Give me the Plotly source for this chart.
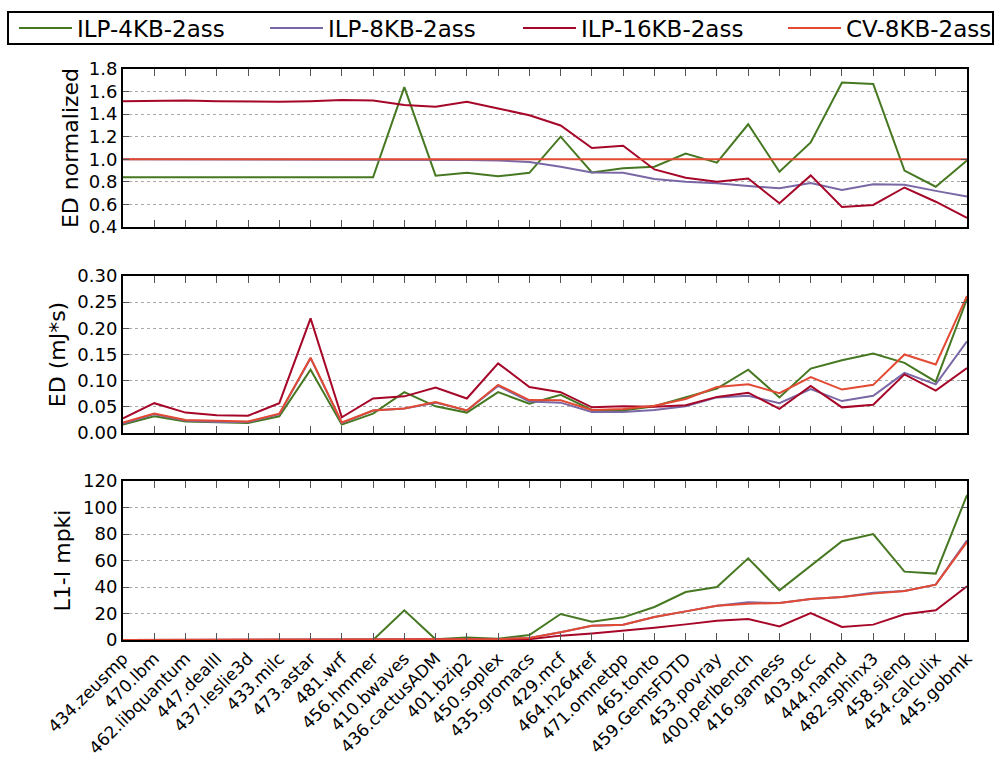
import plotly.graph_objects as go

benchmarks = ["434.zeusmp", "470.lbm", "462.libquantum", "447.dealII", "437.leslie3d",
              "433.milc", "473.astar", "481.wrf", "456.hmmer", "410.bwaves",
              "436.cactusADM", "401.bzip2", "450.soplex", "435.gromacs", "429.mcf",
              "464.h264ref", "471.omnetpp", "465.tonto", "459.GemsFDTD", "453.povray",
              "400.perlbench", "416.gamess", "403.gcc", "444.namd", "482.sphinx3",
              "458.sjeng", "454.calculix", "445.gobmk"]

series_names = ["ILP-4KB-2ass", "ILP-8KB-2ass", "ILP-16KB-2ass", "CV-8KB-2ass"]
series_colors = ["#467821", "#7A68A6", "#A60628", "#E24A33"]

# Panel 1: ED normalized
ednorm_ilp4 = [0.84, 0.84, 0.84, 0.84, 0.84, 0.84, 0.84, 0.84, 0.84, 1.64,
               0.855, 0.88, 0.85, 0.88, 1.20, 0.884, 0.92, 0.934, 1.05, 0.97,
               1.31, 0.89, 1.15, 1.68, 1.667, 0.90, 0.757, 0.99]
ednorm_ilp8 = [1.0, 1.0, 1.0, 1.0, 1.0, 1.0, 1.0, 1.0, 1.0, 0.998,
               0.996, 0.994, 0.99, 0.975, 0.934, 0.884, 0.88, 0.825, 0.80, 0.787,
               0.763, 0.743, 0.79, 0.728, 0.778, 0.775, 0.72, 0.67]
ednorm_ilp16 = [1.515, 1.52, 1.52, 1.515, 1.51, 1.51, 1.515, 1.525, 1.52, 1.48,
                1.466, 1.51, 1.45, 1.39, 1.30, 1.10, 1.12, 0.91, 0.837, 0.80,
                0.83, 0.61, 0.857, 0.577, 0.595, 0.75, 0.624, 0.48]
ednorm_cv = [1.0, 1.0, 1.0, 1.0, 1.0, 1.0, 1.0, 1.0, 1.0, 1.0,
             1.0, 1.0, 1.0, 1.0, 1.0, 1.0, 1.0, 1.0, 1.0, 1.0,
             1.0, 1.0, 1.0, 1.0, 1.0, 1.0, 1.0, 1.0]

# Panel 2: ED (mJ*s)
ed_ilp4 = [0.016, 0.032, 0.022, 0.020, 0.019, 0.032, 0.121, 0.016, 0.037, 0.078,
           0.051, 0.039, 0.078, 0.056, 0.073, 0.044, 0.043, 0.051, 0.068, 0.085,
           0.121, 0.068, 0.123, 0.139, 0.152, 0.134, 0.098, 0.256]
ed_ilp8 = [0.018, 0.036, 0.024, 0.021, 0.021, 0.036, 0.143, 0.019, 0.043, 0.047,
           0.058, 0.043, 0.090, 0.060, 0.058, 0.040, 0.040, 0.044, 0.051, 0.068,
           0.071, 0.057, 0.084, 0.061, 0.071, 0.115, 0.093, 0.175]
ed_ilp16 = [0.028, 0.057, 0.039, 0.034, 0.033, 0.057, 0.219, 0.030, 0.066, 0.070,
            0.087, 0.066, 0.133, 0.088, 0.078, 0.049, 0.051, 0.050, 0.053, 0.069,
            0.077, 0.046, 0.090, 0.049, 0.054, 0.112, 0.081, 0.124]
ed_cv = [0.020, 0.037, 0.025, 0.023, 0.022, 0.037, 0.144, 0.020, 0.043, 0.047,
         0.059, 0.043, 0.092, 0.063, 0.0625, 0.044, 0.046, 0.052, 0.065, 0.088,
         0.093, 0.076, 0.107, 0.083, 0.092, 0.150, 0.131, 0.262]

# Panel 3: L1-I mpki
mpki_ilp4 = [0, 0, 0, 0, 0, 0, 0, 0, 0, 22.4,
             0.5, 1.8, 1.0, 3.8, 19.6, 13.8, 17.1, 24.9, 36.2, 40.0,
             61.6, 37.5, 56.1, 74.5, 80.0, 51.6, 50.1, 109.4]
mpki_ilp8 = [0, 0, 0, 0, 0, 0, 0, 0, 0, 0,
             0.3, 0.5, 0.6, 1.5, 5.8, 10.8, 11.6, 17.4, 21.6, 25.9,
             28.4, 27.9, 30.9, 32.5, 35.7, 37.0, 41.8, 75.2]
mpki_ilp16 = [0, 0, 0, 0, 0, 0, 0, 0, 0, 0,
              0.1, 0.2, 0.3, 0.6, 3.3, 5.0, 7.0, 9.3, 11.8, 14.6,
              15.8, 10.3, 20.4, 9.8, 11.6, 19.4, 22.4, 40.5]
mpki_cv = [0, 0, 0, 0, 0, 0, 0, 0, 0, 0,
           0.3, 0.5, 0.6, 1.5, 5.8, 10.8, 11.6, 17.4, 21.6, 25.9,
           27.4, 27.9, 30.9, 32.5, 35.0, 37.0, 41.8, 74.0]

panels = [
    ([ednorm_ilp4, ednorm_ilp8, ednorm_ilp16, ednorm_cv], "x", "y"),
    ([ed_ilp4, ed_ilp8, ed_ilp16, ed_cv], "x2", "y2"),
    ([mpki_ilp4, mpki_ilp8, mpki_ilp16, mpki_cv], "x3", "y3"),
]
legend_ids = ["legend", "legend2", "legend3", "legend4"]

fig = go.Figure()
for p, (vals, xa, ya) in enumerate(panels):
    for name, color, v, lg in zip(series_names, series_colors, vals, legend_ids):
        fig.add_trace(go.Scatter(
            x=benchmarks, y=v, mode="lines", name=name,
            line=dict(color=color, width=2),
            xaxis=xa, yaxis=ya, showlegend=(p == 0), legendgroup=name, legend=lg,
        ))

FONT = "DejaVu Sans"
W, H = 997, 760
ml, mr, mt, mb = 123, 30, 69, 120
pw = W - ml - mr
ph = H - mt - mb


def dom(top_px, bot_px):
    return [(H - mb - bot_px) / ph, (H - mb - top_px) / ph]


def px_x(px):
    return (px - ml) / pw


def px_y(py):
    return (H - mb - py) / ph


common_x = dict(
    type="category", range=[0, len(benchmarks) - 1], automargin=False,
    showline=True, linecolor="black", linewidth=2, mirror="ticks",
    ticks="inside", ticklen=7, tickwidth=1, tickcolor="#555555",
    showgrid=False, zeroline=False,
)
common_y = dict(
    automargin=False,
    showline=True, linecolor="black", linewidth=2, mirror="ticks",
    ticks="inside", ticklen=6, tickwidth=1, tickcolor="#555555",
    showgrid=True, gridcolor="#aaaaaa", gridwidth=1, griddash="dot",
    zeroline=False, tickfont=dict(family=FONT, size=18, color="black"),
    title_font=dict(family=FONT, size=22, color="black"),
)

legend_style = dict(
    orientation="h", xanchor="left", yanchor="middle", y=px_y(28),
    font=dict(family=FONT, size=23, color="black"),
    itemwidth=53, bgcolor="rgba(0,0,0,0)", borderwidth=0,
)
legend_px = [14, 265, 518, 783]

fig.update_layout(
    width=W, height=H,
    margin=dict(l=ml, r=mr, t=mt, b=mb, autoexpand=False),
    plot_bgcolor="white", paper_bgcolor="white",
    font=dict(family=FONT, color="black"),
    xaxis=dict(common_x, anchor="y", showticklabels=False),
    xaxis2=dict(common_x, anchor="y2", matches="x", showticklabels=False),
    xaxis3=dict(common_x, anchor="y3", matches="x", showticklabels=True,
                tickangle=-45, tickfont=dict(family=FONT, size=17, color="black")),
    yaxis=dict(common_y, domain=dom(69, 227), anchor="x", range=[0.4, 1.8], dtick=0.2,
               tickformat=".1f", title=dict(text="ED normalized", standoff=4)),
    yaxis2=dict(common_y, domain=dom(276, 433), anchor="x2", range=[0, 0.30], dtick=0.05,
                tickformat=".2f", title=dict(text="ED (mJ*s)", standoff=6)),
    yaxis3=dict(common_y, domain=dom(481, 640), anchor="x3", range=[0, 120], dtick=20,
                title=dict(text="L1-I mpki", standoff=6)),
    legend=dict(legend_style, x=px_x(legend_px[0])),
    legend2=dict(legend_style, x=px_x(legend_px[1])),
    legend3=dict(legend_style, x=px_x(legend_px[2])),
    legend4=dict(legend_style, x=px_x(legend_px[3])),
    shapes=[dict(type="rect", xref="paper", yref="paper",
                 x0=px_x(8), x1=px_x(993), y0=px_y(44), y1=px_y(12),
                 line=dict(color="black", width=2), fillcolor="rgba(0,0,0,0)")],
)

fig.write_html("out.html")
